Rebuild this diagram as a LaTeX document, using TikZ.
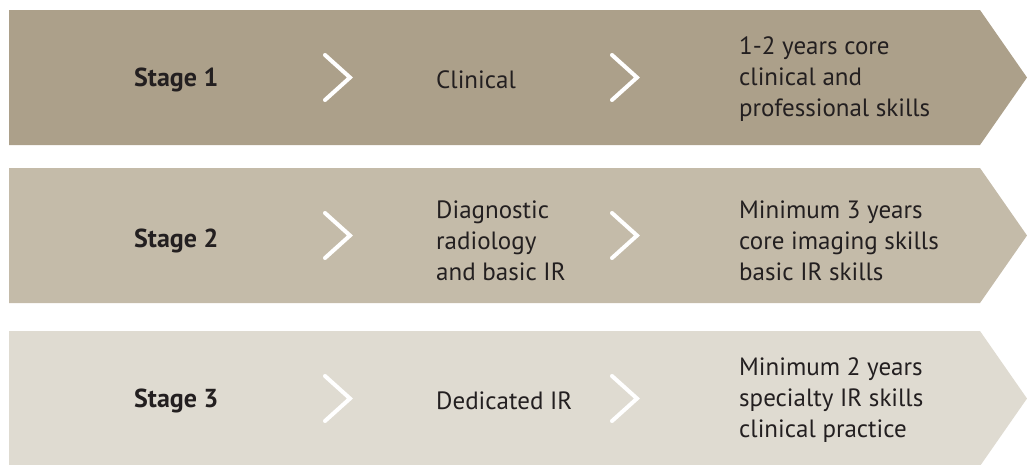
\documentclass[tikz,border=0pt]{standalone}
\usepackage{fontspec}
\setmainfont{PT Sans}
\definecolor{bandA}{HTML}{ACA08A}
\definecolor{bandB}{HTML}{C4BBA9}
\definecolor{bandC}{HTML}{DFDBD1}
\definecolor{txt}{HTML}{231F20}
\begin{document}
\begin{tikzpicture}[x=1pt,y=-1pt,
  band/.style={draw=none},
  chev/.style={draw=white,line width=4pt,line cap=round,line join=miter},
  lbl/.style={anchor=west,inner sep=0pt,text=txt,font=\fontsize{25}{31}\selectfont,align=left},
  stagelbl/.style={lbl,font=\fontsize{26}{31}\selectfont\bfseries}]
\useasboundingbox (0,0) rectangle (1027,464);
\fill[bandA] (9,10) -- (980,10) -- (1027,77.5) -- (980,145) -- (9,145) -- cycle;
\fill[bandB] (9,168) -- (980,168) -- (1027,235.5) -- (980,303) -- (9,303) -- cycle;
\fill[bandC] (9,331) -- (980,331) -- (1027,398.5) -- (980,466) -- (9,466) -- cycle;
% chevrons
\foreach \cy in {77.5,235.5,398.5}{
  \draw[chev] (325,\cy-22.5) -- (350,\cy) -- (325,\cy+22.5);
  \draw[chev] (612,\cy-22.5) -- (637,\cy) -- (612,\cy+22.5);
}
\node[stagelbl] (s1) at (134,79.5) {Stage 1};
\node[lbl] (c1) at (436,79.5) {Clinical};
\node[lbl] (d1) at (739,79.5) {1-2 years core\\clinical and\\professional skills};
\node[stagelbl] (s2) at (134,240.5) {Stage 2};
\node[lbl] (c2) at (436,240.5) {Diagnostic\\radiology\\and basic IR};
\node[lbl] (d2) at (739,240.5) {Minimum 3 years\\core imaging skills\\basic IR skills};
\node[stagelbl] (s3) at (134,400.5) {Stage 3};
\node[lbl] (c3) at (436,400.5) {Dedicated IR};
\node[lbl] (d3) at (739,400.5) {Minimum 2 years\\specialty IR skills\\clinical practice};
\end{tikzpicture}
\end{document}
